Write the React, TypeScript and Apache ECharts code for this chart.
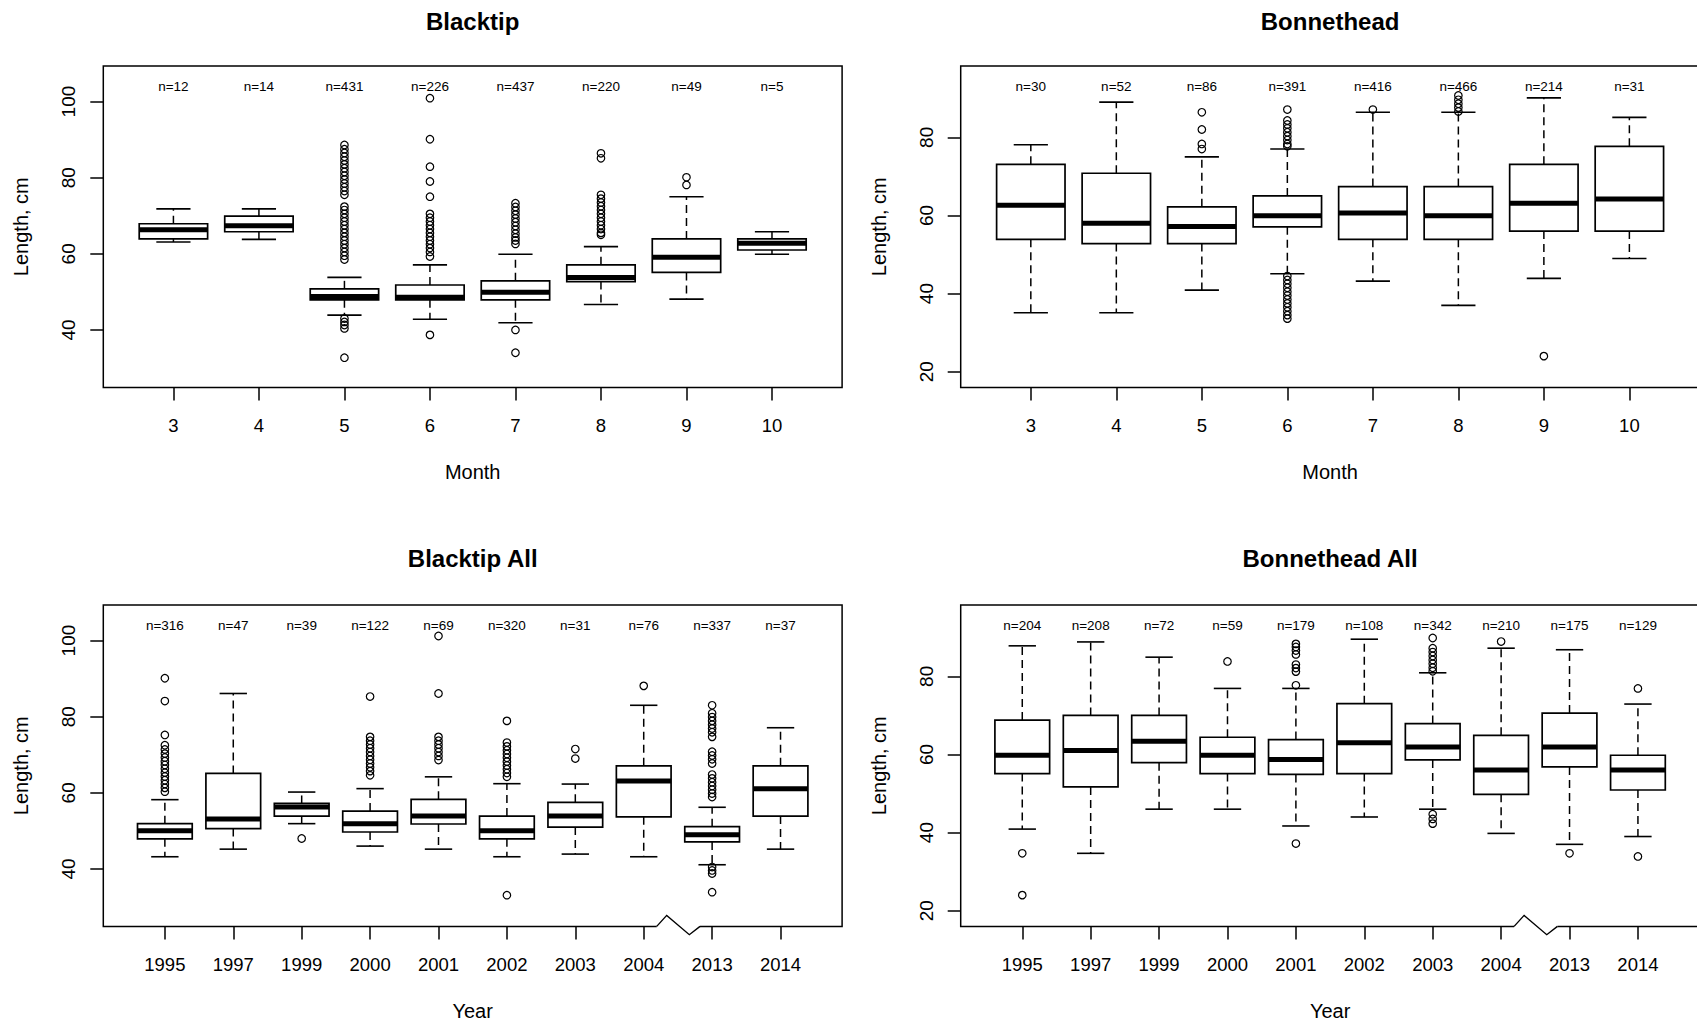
import React, { useEffect, useRef } from "react";
import * as echarts from "echarts";

// ---------- categories ----------
const months = ["3", "4", "5", "6", "7", "8", "9", "10"];
const years = ["1995", "1997", "1999", "2000", "2001", "2002", "2003", "2004", "2013", "2014"];

// ---------- Blacktip by month ----------
// five-number summaries: [lower whisker, Q1, median, Q3, upper whisker]
const blacktipMonthStats = [
  [63.1, 63.9, 66.3, 67.9, 71.8],
  [63.8, 65.8, 67.4, 69.9, 71.8],
  [43.9, 47.9, 48.8, 50.8, 53.8],
  [42.8, 47.9, 48.6, 51.8, 57.1],
  [41.9, 47.9, 49.9, 52.9, 59.9],
  [46.7, 52.7, 53.8, 57.1, 61.9],
  [48.1, 55.1, 59.1, 63.9, 75.0],
  [59.9, 61.0, 62.8, 63.9, 65.8],
];
const blacktipMonthN = [12, 14, 431, 226, 437, 220, 49, 5];
const blacktipMonthOutliers = [
  [],
  [],
  [58.5, 59.5, 60.5, 61.5, 62.5, 63.5, 64.5, 65.5, 66.5, 67.5, 68.5, 69.5, 70.5, 71.5, 72.4,
    75.5, 76.5, 77.5, 78.5, 79.5, 80.5, 81.5, 82.5, 83.5, 84.5, 85.5, 86.5, 87.5, 88.6,
    43.0, 42.1, 41.3, 40.4, 32.7],
  [100.9, 90.1, 82.9, 79.0, 75.0, 70.5, 69.5, 68.5, 67.5, 66.5, 65.5, 64.5, 63.5, 62.5, 61.5, 60.5, 59.3, 38.7],
  [73.3, 72.3, 71.3, 70.3, 69.3, 68.3, 67.3, 66.3, 65.3, 64.3, 63.5, 62.6, 40.0, 34.0],
  [86.4, 85.1, 75.5, 74.5, 73.5, 72.5, 71.5, 70.5, 69.5, 68.5, 67.5, 66.5, 65.5, 65.0],
  [80.1, 78.1],
  [],
];

// ---------- Bonnethead by month ----------
const bonnetMonthStats = [
  [35.1, 53.9, 62.6, 73.1, 78.1],
  [35.1, 52.8, 58.0, 70.8, 89.0],
  [40.9, 52.8, 57.2, 62.2, 75.0],
  [45.1, 57.1, 59.9, 65.0, 77.0],
  [43.2, 53.9, 60.6, 67.4, 86.4],
  [37.0, 53.9, 59.9, 67.4, 86.4],
  [43.9, 56.0, 63.1, 73.1, 90.1],
  [49.0, 56.0, 64.2, 77.7, 85.1],
];
const bonnetMonthN = [30, 52, 86, 391, 416, 466, 214, 31];
const bonnetMonthOutliers = [
  [],
  [],
  [86.4, 82.0, 78.3, 77.0],
  [87.1, 84.3, 83.3, 82.3, 81.3, 80.3, 79.3, 78.3, 77.7,
    44.5, 43.5, 42.5, 41.5, 40.5, 39.5, 38.5, 37.5, 36.5, 35.5, 34.5, 33.6],
  [87.1],
  [86.6, 87.6, 88.6, 89.6, 90.7],
  [24.0],
  [],
];

// ---------- Blacktip by year ----------
const blacktipYearStats = [
  [43.2, 47.9, 50.0, 51.9, 58.2],
  [45.2, 50.6, 53.1, 65.1, 86.1],
  [51.9, 53.9, 56.3, 57.2, 60.2],
  [46.0, 49.7, 51.9, 55.2, 61.1],
  [45.2, 51.8, 53.9, 58.3, 64.2],
  [43.2, 47.9, 50.0, 53.9, 62.4],
  [43.9, 51.0, 53.9, 57.5, 62.3],
  [43.2, 53.7, 63.1, 67.1, 83.0],
  [41.1, 47.1, 49.0, 51.1, 56.2],
  [45.2, 53.9, 61.1, 67.1, 77.1],
];
const blacktipYearN = [316, 47, 39, 122, 69, 320, 31, 76, 337, 37];
const blacktipYearOutliers = [
  [90.1, 84.1, 75.2, 72.5, 71.4, 70.3, 69.3, 68.3, 67.3, 66.3, 65.3, 64.3, 63.3, 62.3, 61.3, 60.3],
  [],
  [48.0],
  [85.3, 74.7, 73.7, 72.7, 71.7, 70.7, 69.7, 68.7, 67.7, 66.7, 65.7, 64.6],
  [101.2, 86.1, 74.7, 73.7, 72.7, 71.7, 70.7, 69.7, 68.6],
  [78.9, 73.2, 72.2, 71.2, 70.2, 69.2, 68.2, 67.2, 66.2, 65.2, 64.2, 33.1],
  [71.5, 69.0],
  [88.1],
  [83.0, 80.9, 79.9, 78.9, 77.9, 76.9, 75.9, 74.7, 70.8, 69.8, 68.8, 67.7,
    64.8, 63.8, 62.8, 61.8, 60.8, 59.8, 58.9, 40.5, 39.6, 38.8, 33.9],
  [],
];

// ---------- Bonnethead by year ----------
const bonnetYearStats = [
  [40.9, 55.1, 59.8, 68.8, 87.8],
  [34.7, 51.7, 61.0, 70.0, 88.8],
  [46.0, 57.9, 63.4, 70.0, 84.9],
  [46.0, 55.1, 59.8, 64.4, 76.9],
  [41.7, 54.9, 58.7, 63.8, 76.9],
  [44.0, 55.1, 63.0, 73.0, 89.5],
  [46.0, 58.6, 61.9, 67.9, 80.9],
  [39.8, 49.8, 56.0, 64.9, 87.2],
  [37.0, 56.8, 61.9, 70.6, 86.8],
  [39.0, 50.9, 56.0, 59.8, 72.9],
];
const bonnetYearN = [204, 208, 72, 59, 179, 108, 342, 210, 175, 129];
const bonnetYearOutliers = [
  [34.7, 24.0],
  [],
  [],
  [83.8],
  [88.3, 87.5, 86.6, 85.6, 83.0, 82.1, 81.2, 77.7, 37.2],
  [],
  [89.8, 87.2, 86.2, 85.2, 84.2, 83.2, 82.2, 81.3, 44.7, 43.5, 42.3],
  [88.9],
  [34.7],
  [76.9, 33.9],
];

// ---------- axis settings ----------
const blacktipRange = [24.9, 109.35];
const bonnetRange = [16.0, 98.25];
const blacktipTicks = [40, 60, 80, 100];
const bonnetTicks = [20, 40, 60, 80];
const yearBreakAfter = 8; // axis break drawn between 2004 and 2013

// ---------- layout ----------
const FONT = "'Liberation Sans', Arial, Helvetica, sans-serif";
const PLOT_W = 738.8;
const PLOT_H = 321.4;
const COL_LEFT = [103.3, 960.7];
const ROW_TOP = [66, 605];
const TITLE_Y = [21.5, 558.5];

type Panel = {
  title: string;
  cats: string[];
  stats: number[][];
  ns: number[];
  outliers: number[][];
  range: number[];
  ticks: number[];
  xName: string;
  col: number;
  row: number;
  breakAfter?: number;
};

const panels: Panel[] = [
  { title: "Blacktip", cats: months, stats: blacktipMonthStats, ns: blacktipMonthN, outliers: blacktipMonthOutliers,
    range: blacktipRange, ticks: blacktipTicks, xName: "Month", col: 0, row: 0 },
  { title: "Bonnethead", cats: months, stats: bonnetMonthStats, ns: bonnetMonthN, outliers: bonnetMonthOutliers,
    range: bonnetRange, ticks: bonnetTicks, xName: "Month", col: 1, row: 0 },
  { title: "Blacktip All", cats: years, stats: blacktipYearStats, ns: blacktipYearN, outliers: blacktipYearOutliers,
    range: blacktipRange, ticks: blacktipTicks, xName: "Year", col: 0, row: 1, breakAfter: yearBreakAfter },
  { title: "Bonnethead All", cats: years, stats: bonnetYearStats, ns: bonnetYearN, outliers: bonnetYearOutliers,
    range: bonnetRange, ticks: bonnetTicks, xName: "Year", col: 1, row: 1, breakAfter: yearBreakAfter },
];

function buildOption() {
  const grid: any[] = [];
  const xAxis: any[] = [];
  const yAxis: any[] = [];
  const series: any[] = [];
  const graphic: any[] = [];

  panels.forEach((p, i) => {
    const n = p.cats.length;
    const pad = 0.04 * n; // 4% extension of the 0.5 .. n+0.5 range
    const positions = p.cats.map((_, k) => k + 1);
    const left = COL_LEFT[p.col];
    const top = ROW_TOP[p.row];

    grid.push({
      left, top, width: PLOT_W, height: PLOT_H,
      show: true, borderColor: "#000", borderWidth: 1.5, backgroundColor: "transparent",
      containLabel: false, outerBoundsMode: "none",
    });

    xAxis.push({
      type: "value", gridIndex: i, min: 0.5 - pad, max: n + 0.5 + pad,
      axisLine: { show: false },
      splitLine: { show: false },
      axisTick: { show: true, customValues: positions, length: 13, lineStyle: { color: "#000", width: 1.5 } },
      axisLabel: {
        customValues: positions, margin: 29, fontSize: 18.5, color: "#000", fontFamily: FONT,
        formatter: (v: number) => p.cats[Math.round(v) - 1] ?? "",
      },
      name: p.xName, nameLocation: "middle", nameGap: 75,
      nameTextStyle: { fontSize: 20, color: "#000", fontFamily: FONT },
    });

    yAxis.push({
      type: "value", gridIndex: i, min: p.range[0], max: p.range[1],
      axisLine: { show: false },
      splitLine: { show: false },
      axisTick: { show: true, customValues: p.ticks, length: 13, lineStyle: { color: "#000", width: 1.5 } },
      axisLabel: { customValues: p.ticks, rotate: 90, margin: 25, fontSize: 19, color: "#000", fontFamily: FONT },
      name: "Length, cm", nameLocation: "middle", nameGap: 72,
      nameTextStyle: { fontSize: 20, color: "#000", fontFamily: FONT },
    });

    const boxData = p.stats.map((s, k) => [k + 1, s[0], s[1], s[2], s[3], s[4], p.ns[k]]);
    const breakAt = p.breakAfter;

    series.push({
      type: "custom",
      xAxisIndex: i, yAxisIndex: i,
      data: boxData,
      z: 3,
      renderItem: (params: any, api: any) => {
        const x = api.value(0);
        const lo = api.value(1), q1 = api.value(2), med = api.value(3), q3 = api.value(4), hi = api.value(5);
        const count = api.value(6);
        const xc = api.coord([x, med])[0];
        const xl = api.coord([x - 0.4, med])[0];
        const xr = api.coord([x + 0.4, med])[0];
        const sl = api.coord([x - 0.2, med])[0];
        const sr = api.coord([x + 0.2, med])[0];
        const yLo = api.coord([x, lo])[1];
        const yQ1 = api.coord([x, q1])[1];
        const yMed = api.coord([x, med])[1];
        const yQ3 = api.coord([x, q3])[1];
        const yHi = api.coord([x, hi])[1];
        const cs = params.coordSys;
        const dash = { stroke: "#000", lineWidth: 1.5, lineDash: [8, 5] };
        const solid = { stroke: "#000", lineWidth: 1.6 };
        const children: any[] = [
          { type: "line", shape: { x1: xc, y1: yQ3, x2: xc, y2: yHi }, style: dash },
          { type: "line", shape: { x1: xc, y1: yQ1, x2: xc, y2: yLo }, style: dash },
          { type: "line", shape: { x1: sl, y1: yHi, x2: sr, y2: yHi }, style: solid },
          { type: "line", shape: { x1: sl, y1: yLo, x2: sr, y2: yLo }, style: solid },
          { type: "rect", shape: { x: xl, y: yQ3, width: xr - xl, height: yQ1 - yQ3 },
            style: { fill: "#fff", stroke: "#000", lineWidth: 1.7 } },
          { type: "line", shape: { x1: xl, y1: yMed, x2: xr, y2: yMed }, style: { stroke: "#000", lineWidth: 5 } },
          { type: "text", x: xc, y: cs.y + 20,
            style: { text: "n=" + count, fill: "#000", font: `13.5px ${FONT}`, align: "center", verticalAlign: "middle" } },
        ];
        if (breakAt !== undefined && x === breakAt) {
          const base = cs.y + cs.height;
          const bx = (d: number) => api.coord([breakAt + 0.5 + d, med])[0];
          children.push(
            { type: "rect", shape: { x: bx(-0.31), y: base - 3, width: bx(0.323) - bx(-0.31), height: 6 },
              style: { fill: "#fff", stroke: null } },
            { type: "polyline",
              shape: { points: [[bx(-0.31), base], [bx(-0.164), base - 11], [bx(0.167), base + 8.3], [bx(0.323), base]] },
              style: { stroke: "#000", lineWidth: 1.4, fill: null } },
          );
        }
        return { type: "group", children };
      },
    });

    const pts: number[][] = [];
    p.outliers.forEach((vals, k) => vals.forEach((v) => pts.push([k + 1, v])));
    series.push({
      type: "scatter",
      xAxisIndex: i, yAxisIndex: i,
      data: pts,
      z: 4,
      symbol: "circle",
      symbolSize: 7.5,
      itemStyle: { color: "rgba(255,255,255,0)", borderColor: "#000", borderWidth: 1.2, opacity: 1 },
    });

    graphic.push({
      type: "text",
      x: left + PLOT_W / 2,
      y: TITLE_Y[p.row],
      style: { text: p.title, fill: "#000", font: `bold 24px ${FONT}`, align: "center", verticalAlign: "middle" },
    });
  });

  return {
    animation: false,
    backgroundColor: "#fff",
    textStyle: { fontFamily: FONT },
    grid, xAxis, yAxis, series, graphic,
  };
}

export default function App() {
  const ref = useRef<HTMLDivElement>(null);
  useEffect(() => {
    if (!ref.current) return;
    const chart = echarts.init(ref.current, null, { renderer: "svg" });
    chart.setOption(buildOption() as any);
    return () => chart.dispose();
  }, []);
  return (
    <div
      ref={ref}
      style={{ position: "absolute", left: 0, top: 0, width: 1697, height: 1023, background: "#fff" }}
    />
  );
}
